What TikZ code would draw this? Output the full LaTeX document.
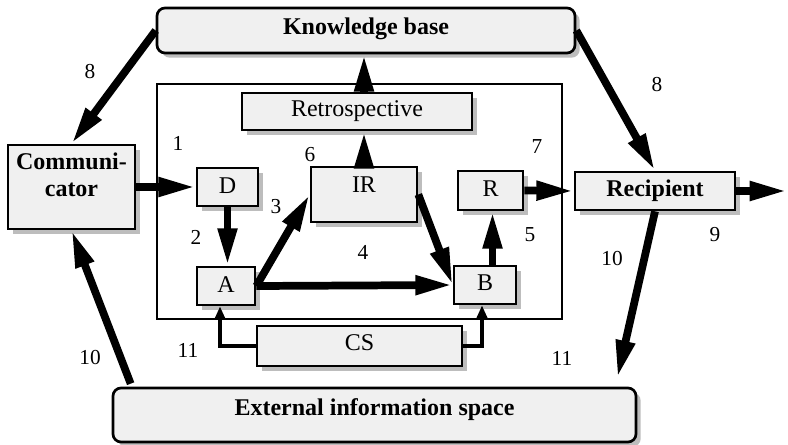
\documentclass[tikz,border=0pt]{standalone}
\usepackage{fontspec}
\setmainfont{Liberation Serif}
\newfontfamily\tms{Liberation Serif}
\usetikzlibrary{arrows.meta,shadows,calc}
\definecolor{boxfill}{HTML}{F0F0F0}
\definecolor{shadowgray}{HTML}{BDBDBD}
\begin{document}
\begin{tikzpicture}[x=0.75pt,y=-0.75pt,
  box/.style={draw, line width=2pt, fill=boxfill, inner sep=0pt,
    font=\tms\fontsize{18}{20.25}\selectfont,
    drop shadow={shadow xshift=3.5pt, shadow yshift=-3.5pt, fill=shadowgray, opacity=1}},
  rbox/.style={box, rounded corners=6pt},
  bbox/.style={font=\tms\fontsize{18}{20.25}\selectfont\bfseries},
  num/.style={inner sep=0pt, font=\tms\fontsize{16}{18}\selectfont},
  frame/.style={draw, line width=0.9pt, inner sep=0pt},
  bigarrow/.style={line width=5.8pt, -{Triangle[length=28pt,width=13.5pt]}},
  smallarrow/.style={line width=3pt, -{Triangle[length=10pt,width=8pt]}}
]
\useasboundingbox (0,0) rectangle (788,445);

% inner frame
\node[frame, minimum width=303.75pt, minimum height=176.25pt] (frame) at (359.5,201.5) {};

% boxes
\node[rbox, bbox, minimum width=313.5pt, text height=20.25pt, text depth=13.5pt] (KB) at (366,30.5) {Knowledge base};
\node[box, minimum width=172.5pt, text height=17.8pt, text depth=10pt] (Retro) at (357,111.5) {Retrospective};
\node[box, bbox, minimum width=95.25pt, text height=18.75pt, text depth=44.25pt] (Comm) at (71.5,187)
  {\begin{tabular}[t]{@{}c@{}}Communi-\\cator\end{tabular}};
\node[box, minimum width=45.75pt, text height=19.5pt, text depth=9pt] (D) at (227.5,187) {D};
\node[box, minimum width=79.5pt, text height=19.5pt, text depth=21.75pt] (IR) at (364,194.5) {IR};
\node[box, minimum width=48.75pt, text height=19.5pt, text depth=9.75pt] (R) at (490.5,190.5) {R};
\node[box, bbox, minimum width=120pt, text height=18.75pt, text depth=9.75pt] (Rec) at (655,191) {Recipient};
\node[box, minimum width=43.5pt, text height=18.75pt, text depth=9.75pt] (A) at (226,286) {A};
\node[box, minimum width=46.5pt, text height=18pt, text depth=10.5pt] (B) at (485,285) {B};
\node[box, minimum width=153.75pt, text height=18pt, text depth=12pt] (CS) at (359.5,346) {CS};
\node[rbox, bbox, minimum width=392.25pt, text height=20.25pt, text depth=20.25pt] (Ext) at (374.5,415) {External information space};

\coordinate (out) at (787,191);

% thick arrows
\draw[bigarrow] (KB.west) -- (Comm.north);
\draw[bigarrow] (KB.east) -- (Rec.north);
\draw[bigarrow] (IR.north |- Retro.north) -- (IR.north |- KB.south);
\draw[bigarrow] (IR.north) -- (IR.north |- Retro.south);
\draw[bigarrow] (Comm.east) -- (D.west);
\draw[bigarrow] (D.south) -- (D.south |- A.north);
\draw[bigarrow] (A.east) -- (IR.west);
\draw[bigarrow] (A.east) -- (B.west);
\draw[bigarrow] (IR.east) -- (B.west);
\draw[bigarrow] ([xshift=1.5pt]R.south |- B.north) -- ([xshift=1.5pt]R.south);
\draw[bigarrow] (R.east) -- (Rec.west);
\draw[bigarrow] (Rec.east) -- (out);
\draw[bigarrow] (Rec.south) -- ($(Ext.north east)+(-20,-9)$);
\draw[bigarrow] ($(Ext.north west)+(19,-3)$) -- (Comm.south);

% CS arrows
\draw[smallarrow] (CS.west) -- ([xshift=-4.5pt]A.south |- CS.west) -- ([xshift=-4.5pt]A.south);
\draw[smallarrow] (CS.east) -- ([xshift=-2.25pt]B.south |- CS.east) -- ([xshift=-2.25pt]B.south);

% numbers
\node[num] (n8a) at (90,72) {8};
\node[num] (n8b) at (657,85) {8};
\node[num] (n1) at (178,143) {1};
\node[num] (n6) at (310,155) {6};
\node[num] (n7) at (537,147) {7};
\node[num] (n3) at (276,207) {3};
\node[num] (n2) at (196,237) {2};
\node[num] (n4) at (363,252) {4};
\node[num] (n5) at (530,235) {5};
\node[num] (n9) at (715,235) {9};
\node[num] (n10a) at (612,259) {10};
\node[num] (n10b) at (90,358) {10};
\node[num] (n11a) at (188,350) {11};
\node[num] (n11b) at (562,358) {11};
\end{tikzpicture}
\end{document}
